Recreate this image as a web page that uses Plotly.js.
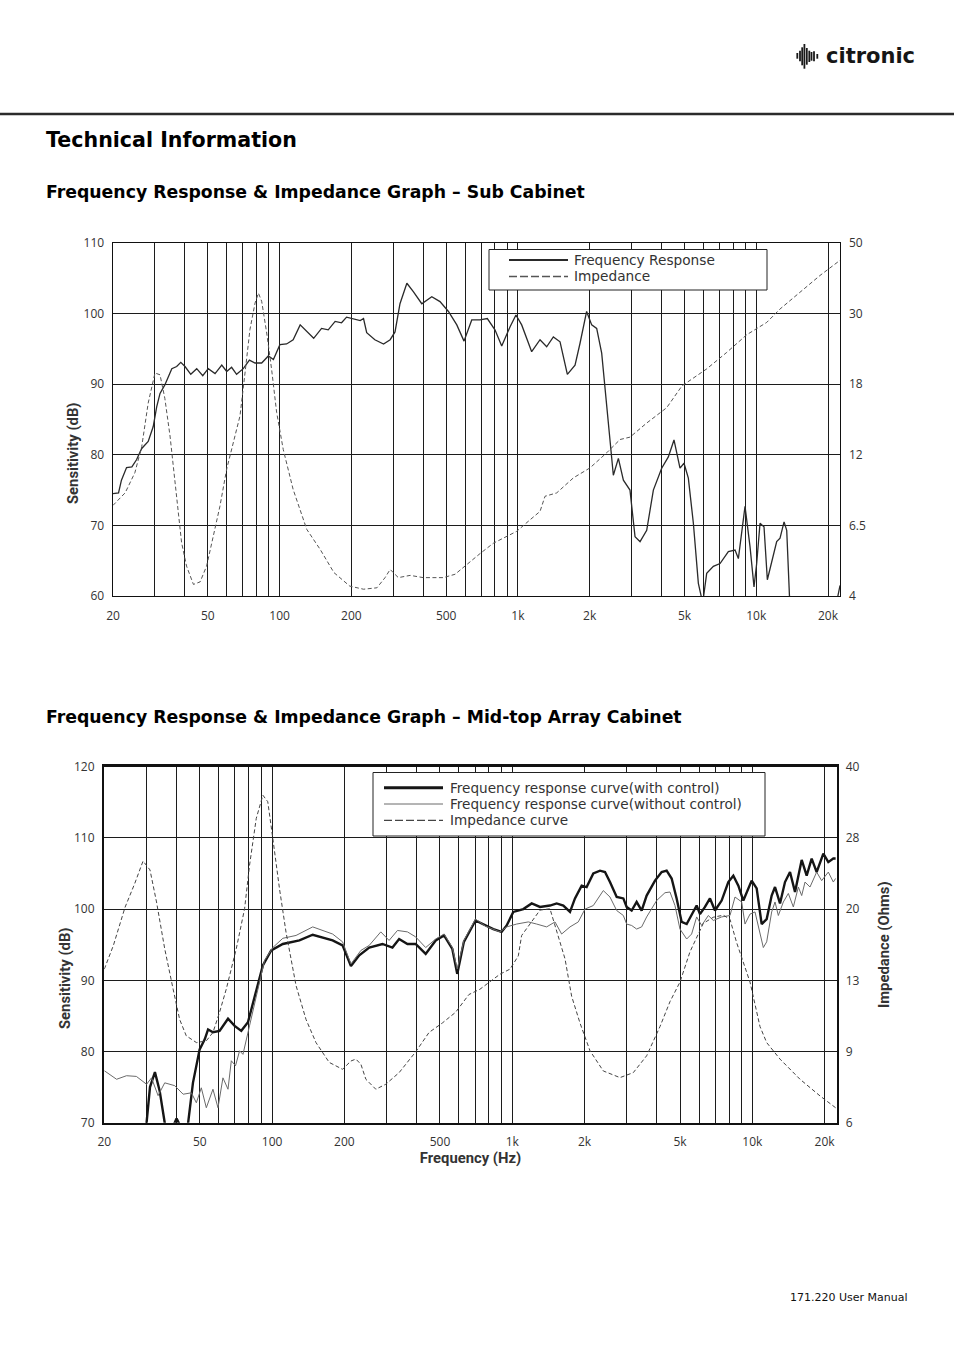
<!DOCTYPE html>
<html><head><meta charset="utf-8">
<script src="https://cdn.plot.ly/plotly-3.0.1.min.js"></script>
<style>html,body{margin:0;padding:0;background:#fff;}#page{width:954px;height:1350px;}</style>
</head><body><div id="page"></div>
<script>
// ---------- tick labels ----------
const freqTickVals = [20,30,40,50,60,70,80,90,100,200,300,400,500,600,700,800,900,1000,2000,3000,4000,5000,6000,7000,8000,9000,10000,20000];
const freqTickLabels = ['20','','','50','','','','','100','200','','','500','','','','','1k','2k','','','5k','','','','','10k','20k'];
const subImpTicks = [4, 6.5, 12, 18, 30, 50];
const midImpTicks = [6, 9, 13, 20, 28, 40];

// ---------- series names ----------
const subNames = ['Frequency Response', 'Impedance'];
const midNames = ['Frequency response curve(with control)', 'Frequency response curve(without control)', 'Impedance curve'];

// ---------- Sub cabinet ----------
const subFreq = [20,21.1,21.7,22.8,24,25.1,26.4,28.1,29.5,30.5,31.5,33,35.3,37,38.5,40.1,42.4,44.9,47.6,50.2,53.6,57.2,60,62.9,66,70.4,74.7,78.9,84.1,89.7,94.2,100.3,107,114,122,130,139,150,160,171,182,191,204,218,225,232,251,273,291,305,320,342,364,395,435,471,511,554,594,640,693,744,801,855,926,981,1037,1142,1238,1320,1408,1502,1612,1736,1822,1942,2039,2140,2246,2357,2434,2514,2639,2770,2952,3100,3254,3470,3700,4010,4276,4516,4786,4975,5188,5446,5715,5960,6194,6606,7047,7636,8145,8412,8970,9414,9784,10040,10370,10776,11130,11600,12180,12580,13080,13420,13860,16000,20000,21400,22460];
const subFrDb = [74.5,74.6,76.4,78.2,78.3,79.3,80.9,81.9,84.0,86.8,88.7,89.9,92.2,92.5,93.1,92.5,91.4,92.2,91.2,92.2,91.5,92.7,91.8,92.4,91.4,92.2,93.4,93.0,93.0,94.0,93.5,95.6,95.7,96.3,98.4,97.4,96.5,97.9,97.7,98.9,98.7,99.5,99.3,99.0,99.3,97.3,96.3,95.7,96.3,97.4,101.4,104.3,103.1,101.4,102.4,101.7,100.3,98.4,96.1,99.1,99.1,99.3,97.7,95.4,98.1,99.8,98.4,94.6,96.3,95.3,96.7,96.0,91.4,92.7,95.8,100.3,98.4,97.9,94.4,87.3,81.6,77.1,79.5,76.4,75.0,68.4,67.7,69.3,75.0,78.1,79.7,82.1,78.1,78.8,76.7,70.3,61.8,59.0,63.2,64.2,64.6,66.3,66.5,65.3,72.7,67.0,61.3,64.6,70.3,69.8,62.3,64.6,67.7,68.2,70.5,69.3,58.0,55,55,58,61.5];
const subImpFreq = [20,22.5,24.7,26.4,28.1,30,31.5,33,34.7,37,38.8,40.7,43.5,46.4,49.4,52.7,56.2,60,63.9,68.2,71.6,75.1,78.9,81.5,84.1,88.3,92.6,97.2,103.6,114,130,148,169,197,225,256,277,291,315,353,401,486,545,610,693,789,988,1125,1238,1299,1454,1708,2006,2357,2682,2952,3470,4208,4880,6194,7514,9116,11060,12580,15260,18510,22460];
const subImpOhm = [8.06,9.04,10.6,12.7,16.4,19.9,19.6,16.8,13.6,8.78,5.89,5.06,4.41,4.50,5.06,6.12,8.0,10.9,13.0,15.3,19.9,27.3,33.0,35.8,33.5,26.7,20.5,15.6,12.45,9.3,6.36,5.65,4.83,4.35,4.24,4.29,4.65,4.94,4.65,4.73,4.65,4.65,4.77,5.12,5.5,5.87,6.29,6.94,7.59,8.77,9.03,10.2,10.98,12.17,13.3,13.5,14.7,16.0,17.86,20.6,23.4,26.4,28.5,31.3,36.1,40.8,45.1];

// ---------- Mid-top array cabinet ----------
const midCtrlFreq = [20,28.5,30,31,32.5,34,35.7,37,38.7,40,41.5,43,44.7,46.8,49.9,52.4,54.1,56.7,60.4,65.5,69.8,74.4,79.3,84.5,91.5,99.1,110.8,129.9,147.6,178.6,196.5,212.9,230.6,253.7,288,317,338,366,396,436,480,520,563,590,629,703,770,834,903,948,1010,1112,1205,1305,1436,1531,1632,1740,1825,1946,2041,2176,2320,2434,2553,2723,2902,2996,3143,3297,3459,3629,3932,4191,4396,4612,4838,5076,5327,5587,5862,6052,6350,6661,6989,7450,7942,8333,8743,9172,9470,9934,10423,10935,11473,12035,12428,13038,13677,14350,15056,16050,16838,17662,18530,19752,20720,21740,22220];
const midCtrlDb = [60,62,70,75,77.1,74.5,70,66,69.5,70.6,69.5,66,70,75.6,80.3,81.7,83.1,82.7,82.9,84.6,83.6,82.9,84.1,87.8,92.1,94.2,95.1,95.6,96.4,95.6,94.9,92.0,93.5,94.6,95.1,94.6,95.8,95.1,95.1,93.7,95.6,96.3,94.4,90.9,95.4,98.4,97.7,97.2,96.8,97.7,99.6,100.0,100.8,100.3,100.5,100.8,100.5,99.6,101.5,103.3,103.1,105.0,105.4,105.2,103.8,101.7,101.5,100.3,99.8,101.0,99.8,101.9,104.0,105.2,105.4,104.3,101.5,98.2,97.9,99.1,100.5,99.3,100.3,101.5,99.8,101.2,103.8,104.7,103.3,101.2,102.4,104.0,102.9,97.9,98.6,101.9,103.1,100.8,103.8,105.2,102.4,106.9,104.7,107.1,105.2,107.8,106.6,107.1,107.1];
const midNoFreq = [20,22.5,24.75,27.2,30,31.45,33.5,35.7,39.3,42.6,46.1,48.35,50.7,53.2,56.7,59.5,62.4,65.5,67.6,70.4,73.2,75.6,80.5,85.9,93,100.7,110.8,125.8,147.6,178.6,196.5,212.9,234.3,253.7,283.5,307,332.7,366,396,436,480,520,563,590,629,703,774,889,948,1043,1167,1264,1391,1507,1606,1740,1884,2009,2176,2395,2553,2723,2902,2996,3143,3297,3459,3629,3994,4326,4539,4762,4995,5327,5587,5862,6150,6556,6878,7450,8070,8467,9028,9320,9777,10257,10762,11112,11473,12035,12428,12832,13461,14122,14816,15545,16050,16572,17380,18530,19438,20720,21740,22220];
const midNoDb = [77.3,76.1,76.6,76.5,75.4,76.3,73.8,75.6,75.2,74.0,74.2,72.8,74.9,72.1,74.7,72.1,76.3,74.7,78.7,78.0,80.1,79.6,83.6,87.8,92.8,94.6,95.9,96.3,97.5,96.5,95.4,92.3,94.2,94.9,96.8,95.6,97.0,96.8,96.1,94.6,95.8,96.5,94.6,91.6,95.6,98.6,97.6,96.8,97.5,97.9,98.2,97.9,97.5,98.2,96.5,97.5,98.2,100.0,100.5,102.6,101.7,99.8,99.1,97.9,97.7,97.2,97.5,98.9,101.2,102.3,102.4,100.5,97.2,95.8,96.5,98.9,97.7,99.1,98.4,98.9,99.1,101.7,101.0,97.9,99.3,99.6,96.3,94.6,95.4,99.6,101.0,99.1,101.0,102.2,100.3,103.1,101.9,103.8,103.1,105.2,104.0,105.2,103.8,104.3];
const midImpFreq = [20,21.8,24.4,26.8,29,31,33,35.7,38.7,41.2,43.9,48.4,53.2,56.7,60.4,64.4,70.9,76.8,80.5,85.9,91.5,95.9,100.7,107.3,114.3,125.8,138.4,152.3,172.9,196.5,212.9,223.2,234.3,245.7,270.3,297.3,338,396.4,450.3,511.3,580.6,660,734,808,889,979,1060,1094,1186,1305,1436,1556,1659,1768,1915,2108,2395,2810,3193,3629,4124,4539,4995,5498,6249,6878,7570,8070,8603,9777,10762,11473,13038,15796,19130,22220];
const midImpOhm = [14.1,16.4,20.2,22.9,25.4,24.4,20.8,16.1,12.5,10.8,9.88,9.5,9.6,10.07,11.2,12.5,16.1,20.04,24.9,31.3,35.2,34.1,27.9,22.3,17.7,12.7,10.8,9.5,8.54,8.25,8.6,8.68,8.46,7.83,7.41,7.62,8.11,8.99,10.07,10.6,11.2,12.2,12.5,12.9,13.6,14.1,15.4,17.4,18.6,19.9,20.04,17.2,15.1,12.1,10.6,9.04,8.18,7.9,8.11,8.82,10.4,11.8,12.9,15.8,18.6,19.2,19.4,19.0,16.7,12.9,10.4,9.5,8.68,7.83,7.13,6.63];

// ---------- helpers ----------
// The impedance axes are labelled with unevenly spaced values, one per grid line;
// map ohms onto that grid-line index scale (linear between neighbouring labels).
function ohmToGrid(v, ticks) {
  for (let i = 0; i < ticks.length - 1; i++) {
    if (v <= ticks[i + 1] || i === ticks.length - 2) return i + (v - ticks[i]) / (ticks[i + 1] - ticks[i]);
  }
}
const W = 954, H = 1350;
const px = x => x / W, py = y => 1 - y / H;
const gridIdx = subImpTicks.map((_, i) => i);

const BOLD = 'Roboto, "Open Sans", sans-serif';
const TXT = '"Open Sans", sans-serif';
const HEAD = '"DejaVu Sans", sans-serif';

// line styles (shared by curves and legend samples)
const stSubFr = {color: '#2a2a2a', width: 1.3};
const stSubImp = {color: '#555', width: 1, dash: '4px,2.5px'};
const stMidCtrl = {color: '#151515', width: 2.4};
const stMidNo = {color: '#6a6a6a', width: 1};
const stMidImp = {color: '#444', width: 1, dash: '4px,2.5px'};

const traces = [
  {x: subFreq, y: subFrDb, xaxis: 'x', yaxis: 'y', type: 'scatter', mode: 'lines', name: subNames[0], line: stSubFr, showlegend: false},
  {x: subImpFreq, y: subImpOhm.map(v => ohmToGrid(v, subImpTicks)), customdata: subImpOhm, xaxis: 'x', yaxis: 'y2',
   type: 'scatter', mode: 'lines', name: subNames[1], line: stSubImp, showlegend: false},
  {x: midCtrlFreq, y: midCtrlDb, xaxis: 'x2', yaxis: 'y3', type: 'scatter', mode: 'lines', name: midNames[0], line: stMidCtrl, showlegend: false},
  {x: midNoFreq, y: midNoDb, xaxis: 'x2', yaxis: 'y3', type: 'scatter', mode: 'lines', name: midNames[1], line: stMidNo, showlegend: false},
  {x: midImpFreq, y: midImpOhm.map(v => ohmToGrid(v, midImpTicks)), customdata: midImpOhm, xaxis: 'x2', yaxis: 'y4',
   type: 'scatter', mode: 'lines', name: midNames[2], line: stMidImp, showlegend: false}
];

const xBase = {type: 'log', range: [Math.log10(20), 4.3513], tickvals: freqTickVals, ticktext: freqTickLabels,
  showgrid: true, gridcolor: '#1c1c1c', gridwidth: 1, showline: true, mirror: true, linecolor: '#111',
  ticks: '', tickfont: {family: TXT, size: 12, color: '#333'}, zeroline: false};
const yBase = {showgrid: true, gridcolor: '#1c1c1c', gridwidth: 1, showline: true, mirror: true, linecolor: '#111',
  ticks: '', ticklabelstandoff: 5, tickfont: {family: TXT, size: 12, color: '#333'}, zeroline: false, dtick: 10};
const y2Base = {side: 'right', range: [0, 5], tickvals: gridIdx, showgrid: false, showline: false, zeroline: false,
  ticks: '', ticklabelstandoff: 8, tickfont: {family: TXT, size: 12, color: '#333'}};

// ---------- decoration: header rule, logo, legend boxes ----------
const logoBars = [[797.3,53,58.7],[800,50.7,61.3],[802.2,47.3,65.3],[804.4,44,68.7],[806.8,48,64.7],[809.3,50.7,62],[811.5,52,60.7],[814,51.3,61.3],[817.3,54,58.7]];
const shapes = [
  {type: 'line', xref: 'paper', yref: 'paper', x0: 0, x1: 1, y0: py(114), y1: py(114), line: {color: '#2b2b2b', width: 2.5}},
  {type: 'rect', xref: 'paper', yref: 'paper', x0: px(489), x1: px(767), y0: py(290), y1: py(249.5), fillcolor: '#fff', line: {color: '#222', width: 1}, layer: 'above'},
  {type: 'rect', xref: 'paper', yref: 'paper', x0: px(373), x1: px(765), y0: py(836), y1: py(772.5), fillcolor: '#fff', line: {color: '#222', width: 1}, layer: 'above'}
];
logoBars.forEach(b => shapes.push({type: 'line', xref: 'paper', yref: 'paper', x0: px(b[0]), x1: px(b[0]), y0: py(b[2]), y1: py(b[1]), line: {color: '#1a1a1a', width: 1.8}}));

const annotations = [
  {text: '<b>citronic</b>', x: px(824), y: py(56), xref: 'paper', yref: 'paper', xanchor: 'left', yanchor: 'middle', showarrow: false, font: {family: HEAD, size: 21, color: '#161616'}},
  {text: '<b>Technical Information</b>', x: px(43.5), y: py(140), xref: 'paper', yref: 'paper', xanchor: 'left', yanchor: 'middle', showarrow: false, font: {family: HEAD, size: 20.6, color: '#000'}},
  {text: '<b>Frequency Response &amp; Impedance Graph – Sub Cabinet</b>', x: px(43.5), y: py(192), xref: 'paper', yref: 'paper', xanchor: 'left', yanchor: 'middle', showarrow: false, font: {family: HEAD, size: 17.3, color: '#000'}},
  {text: '<b>Frequency Response &amp; Impedance Graph – Mid-top Array Cabinet</b>', x: px(43.5), y: py(717), xref: 'paper', yref: 'paper', xanchor: 'left', yanchor: 'middle', showarrow: false, font: {family: HEAD, size: 17.3, color: '#000'}},
  {text: '<b>Sensitivity (dB)</b>', x: px(73), y: py(453), xref: 'paper', yref: 'paper', xanchor: 'center', yanchor: 'middle', textangle: -90, showarrow: false, font: {family: BOLD, size: 14.8, color: '#333'}},
  {text: '<b>Sensitivity (dB)</b>', x: px(65), y: py(978), xref: 'paper', yref: 'paper', xanchor: 'center', yanchor: 'middle', textangle: -90, showarrow: false, font: {family: BOLD, size: 14.8, color: '#333'}},
  {text: '171.220 User Manual', x: px(910), y: py(1297), xref: 'paper', yref: 'paper', xanchor: 'right', yanchor: 'middle', showarrow: false, font: {family: HEAD, size: 11, color: '#111'}}
];

// ---------- legends (drawn with shapes + text so the tight entry spacing matches) ----------
function addLegend(names, styles, lineX0, lineX1, textX, rowsY, fontSize) {
  names.forEach((nm, i) => {
    const st = styles[i];
    const ln = {color: st.color, width: st.dash ? 1.3 : (st.width < 1.2 ? 1 : st.width + 0.5)};
    if (st.dash) ln.dash = '8px,3px';
    shapes.push({type: 'line', xref: 'paper', yref: 'paper', x0: px(lineX0), x1: px(lineX1), y0: py(rowsY[i]), y1: py(rowsY[i]), line: ln, layer: 'above'});
    annotations.push({text: nm, x: px(textX), y: py(rowsY[i]), xref: 'paper', yref: 'paper', xanchor: 'left', yanchor: 'middle', showarrow: false,
      borderpad: 0, font: {family: HEAD, size: fontSize, color: '#333'}});
  });
}
addLegend(subNames, [stSubFr, stSubImp], 509, 568, 573, [260, 276.5], 13.7);
addLegend(midNames, [stMidCtrl, stMidNo, stMidImp], 384, 443, 449, [787.7, 804, 820.3], 13.6);

const layout = {
  width: W, height: H, margin: {l: 0, r: 0, t: 0, b: 0}, paper_bgcolor: '#fff', plot_bgcolor: '#fff',
  font: {family: TXT, size: 12, color: '#333'}, showlegend: false,
  xaxis: Object.assign({}, xBase, {domain: [px(113), px(840)], anchor: 'y', linewidth: 1.4, ticklabelstandoff: 8}),
  yaxis: Object.assign({}, yBase, {domain: [py(596), py(243)], range: [60, 110], anchor: 'x', linewidth: 1.4}),
  yaxis2: Object.assign({}, y2Base, {overlaying: 'y', anchor: 'x', ticktext: subImpTicks.map(String)}),
  xaxis2: Object.assign({}, xBase, {domain: [px(104.3), px(836.7)], anchor: 'y3', linewidth: 2.4, ticklabelstandoff: 6,
    title: {text: '<b>Frequency (Hz)</b>', font: {family: BOLD, size: 14.8, color: '#333'}, standoff: 3}}),
  yaxis3: Object.assign({}, yBase, {domain: [py(1122.7), py(766.7)], range: [70, 120], anchor: 'x2', linewidth: 2.4}),
  yaxis4: Object.assign({}, y2Base, {overlaying: 'y3', anchor: 'x2', ticktext: midImpTicks.map(String),
    title: {text: '<b>Impedance (Ohms)</b>', font: {family: BOLD, size: 14.8, color: '#333'}, standoff: 20}}),
  shapes: shapes, annotations: annotations
};

Plotly.newPlot('page', traces, layout, {staticPlot: true, displayModeBar: false});
</script></body></html>
